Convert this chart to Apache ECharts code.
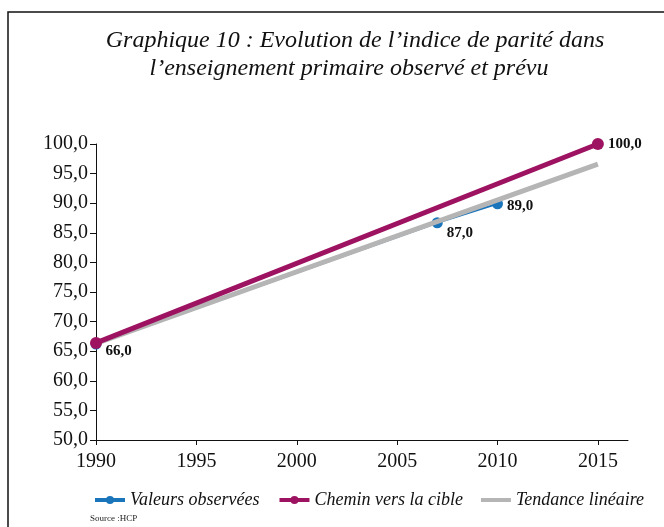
<!DOCTYPE html>
<html>
<head>
<meta charset="utf-8">
<script src="https://cdn.jsdelivr.net/npm/echarts@6/dist/echarts.min.js"></script>
<style>
  html, body { margin: 0; padding: 0; background: #fff; }
  #chart { width: 664px; height: 527px; }
</style>
</head>
<body>
<div id="chart"></div>
<script>
// données
const years = [1990, 1995, 2000, 2005, 2010, 2015];
const observedYears = [1990, 2007, 2010];
const observedValues = [66.2, 86.7, 89.9];
const observedLabels = ['66,0', '87,0', '89,0'];
const targetYears = [1990, 2015];
const targetValues = [66.4, 100.0];
const targetLabels = ['', '100,0'];
const trendYears = [1990, 2015];
const trendValues = [66.3, 96.6];

// décalage vertical des étiquettes (style)
const observedLabelDy = [7, 10, 2];

const serif = '"Liberation Serif", "DejaVu Serif", serif';
const fr = v => v.toFixed(1).replace('.', ',');

const chart = echarts.init(document.getElementById('chart'));

const titleFont = 'italic 24px ' + serif;

const option = {
  animation: false,
  backgroundColor: '#fff',
  // cadre autour du graphique + titre sur deux lignes
  graphic: [
    {
      type: 'rect',
      shape: { x: 8, y: 12, width: 720, height: 640 },
      style: { fill: 'none', stroke: '#111', lineWidth: 1.5 },
      silent: true
    },
    {
      type: 'text',
      x: 355,
      y: 41,
      style: {
        text: 'Graphique 10 : Evolution de l\u2019indice de parité dans',
        font: titleFont, fill: '#111', align: 'center', verticalAlign: 'middle'
      }
    },
    {
      type: 'text',
      x: 349,
      y: 69,
      style: {
        text: 'l\u2019enseignement primaire observé et prévu',
        font: titleFont, fill: '#111', align: 'center', verticalAlign: 'middle'
      }
    },
    {
      type: 'text',
      left: 90,
      top: 514,
      style: { text: 'Source :HCP', font: '9px ' + serif, fill: '#222' }
    }
  ],
  legend: {
    left: 88,
    top: 486,
    itemWidth: 30,
    itemHeight: 10,
    itemGap: 18,
    lineStyle: { width: 4 },
    data: [
      'Valeurs observées',
      'Chemin vers la cible',
      { name: 'Tendance linéaire', icon: 'path://M0 0 H30 V4 H0 Z' }
    ],
    textStyle: {
      fontFamily: serif,
      fontStyle: 'italic',
      fontSize: 18,
      color: '#111'
    }
  },
  grid: { left: 96, right: 36, top: 144, bottom: 87 },
  xAxis: {
    type: 'value',
    min: 1990,
    max: 2016.5,
    interval: 5,
    splitLine: { show: false },
    axisLine: { lineStyle: { color: '#111', width: 1 } },
    axisTick: { length: 5, customValues: years, lineStyle: { color: '#111' } },
    axisLabel: {
      customValues: years,
      margin: 12,
      fontFamily: serif,
      fontSize: 20,
      color: '#111',
      formatter: v => String(v)
    }
  },
  yAxis: {
    type: 'value',
    min: 50,
    max: 100,
    interval: 5,
    splitLine: { show: false },
    axisLine: { show: true, lineStyle: { color: '#111', width: 1 } },
    axisTick: { show: true, length: 6, lineStyle: { color: '#111' } },
    axisLabel: {
      margin: 8,
      fontFamily: serif,
      fontSize: 20,
      color: '#111',
      formatter: fr
    }
  },
  series: [
    {
      name: 'Valeurs observées',
      type: 'line',
      z: 2,
      data: observedYears.map((y, i) => ({
        value: [y, observedValues[i]],
        label: { offset: [0, observedLabelDy[i]] }
      })),
      symbol: 'circle',
      symbolSize: 11,
      color: '#1b75bb',
      lineStyle: { width: 2, color: '#1b75bb' },
      label: {
        show: true,
        position: 'right',
        distance: 4,
        fontFamily: serif,
        fontWeight: 'bold',
        fontSize: 15,
        color: '#111',
        formatter: p => observedLabels[p.dataIndex]
      }
    },
    {
      name: 'Tendance linéaire',
      type: 'line',
      z: 3,
      data: trendYears.map((y, i) => [y, trendValues[i]]),
      symbol: 'none',
      color: '#b5b5b5',
      lineStyle: { width: 5, color: '#b5b5b5' }
    },
    {
      name: 'Chemin vers la cible',
      type: 'line',
      z: 4,
      data: targetYears.map((y, i) => [y, targetValues[i]]),
      symbol: 'circle',
      symbolSize: 12,
      color: '#9e1361',
      lineStyle: { width: 5, color: '#9e1361' },
      label: {
        show: true,
        position: 'right',
        distance: 4,
        fontFamily: serif,
        fontWeight: 'bold',
        fontSize: 15,
        color: '#111',
        formatter: p => targetLabels[p.dataIndex]
      }
    }
  ]
};

chart.setOption(option);
</script>
</body>
</html>
